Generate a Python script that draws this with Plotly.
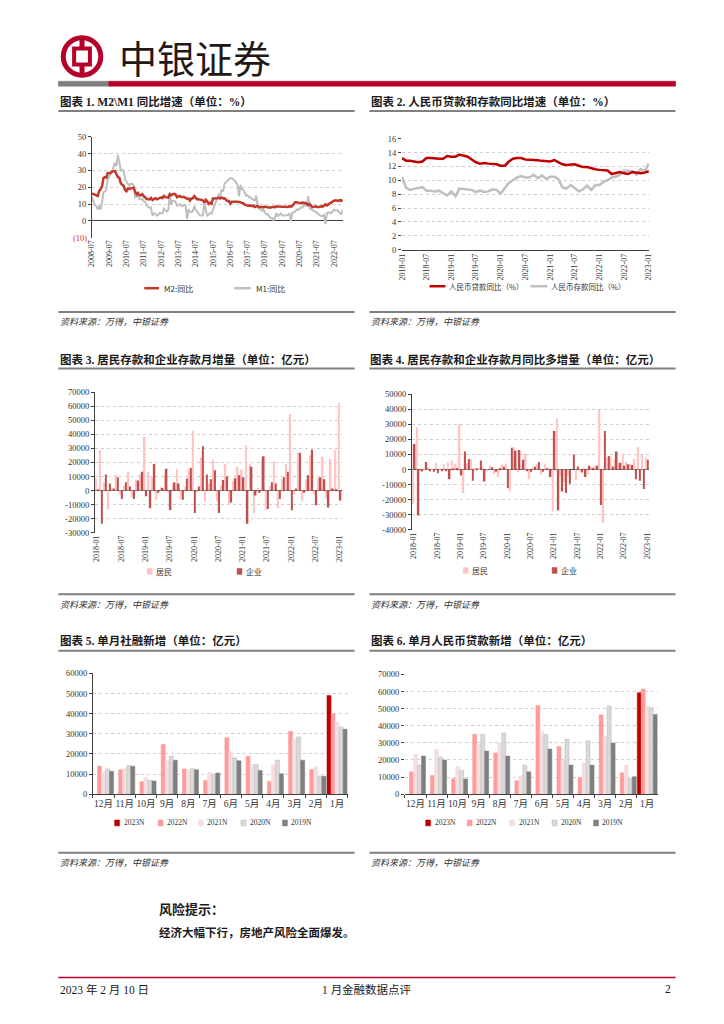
import plotly.graph_objects as go
import pandas as pd

W, H = 724, 1024
def X(px): return px / W
def Y(py): return 1 - py / H

SERIF = "Liberation Serif, Noto Sans CJK SC"
CJK = "Noto Sans CJK SC"
TXT = "#333333"
AX = "#404040"
GRID = "#cfcfcf"

# ---------------- Chart 1: M2 / M1 YoY (2008-07 .. 2023-01) ----------------
c1_dates = pd.date_range("2008-07-01", "2023-01-01", freq="MS")
m2_yoy = [16.4, 16.0, 15.3, 15.0, 14.8, 17.8,
          18.8, 20.5, 25.5, 26.0, 25.7, 28.5, 28.4, 28.5, 29.3, 29.4, 29.7, 27.7,
          26.0, 25.5, 22.5, 21.5, 21.0, 18.5, 17.6, 19.2, 19.0, 19.3, 19.5, 19.7,
          17.2, 15.7, 16.6, 15.3, 15.1, 15.9, 14.7, 13.5, 13.0, 12.9, 12.7, 13.6,
          12.4, 13.0, 13.4, 12.8, 13.2, 13.6, 13.9, 13.5, 14.8, 14.1, 13.9, 13.8,
          15.9, 15.2, 15.7, 16.1, 15.8, 14.0, 14.5, 14.7, 14.2, 14.3, 14.2, 13.6,
          13.2, 13.3, 12.1, 13.2, 13.4, 14.7, 13.5, 12.8, 12.9, 12.6, 12.3, 12.2,
          10.8, 12.5, 11.6, 10.1, 10.8, 10.2, 13.3, 13.3, 13.1, 13.5, 13.7, 13.3,
          14.0, 13.3, 13.4, 12.8, 11.8, 11.8, 10.2, 11.4, 11.5, 11.6, 11.4, 11.3,
          11.3, 11.1, 10.6, 10.5, 9.6, 9.4, 9.2, 8.9, 9.2, 8.8, 9.1, 8.2,
          8.6, 8.8, 8.2, 8.3, 8.3, 8.0, 8.5, 8.2, 8.3, 8.0, 8.0, 8.1,
          8.4, 8.0, 8.6, 8.5, 8.5, 8.5, 8.1, 8.2, 8.4, 8.4, 8.2, 8.7,
          8.4, 8.8, 10.1, 11.1, 11.1, 11.1, 10.7, 10.4, 10.9, 10.5, 10.7, 10.1,
          9.4, 10.1, 9.4, 8.1, 8.3, 8.6, 8.3, 8.2, 8.3, 8.7, 8.5, 9.0,
          9.8, 9.2, 9.7, 10.5, 11.1, 11.4, 12.0, 12.2, 12.1, 11.8, 12.4, 11.8,
          12.6]
m1_yoy = [14.3, 11.4, 9.4, 8.9, 6.8, 9.1,
          6.7, 10.9, 17.0, 17.5, 18.7, 24.8, 26.4, 27.7, 29.5, 32.0, 34.6, 32.4,
          39.0, 35.0, 29.9, 30.4, 29.9, 24.6, 22.9, 21.9, 20.9, 22.1, 22.1, 21.2,
          14.0, 14.5, 15.0, 12.9, 12.7, 13.1, 11.6, 11.2, 8.9, 8.4, 7.8, 7.9,
          3.1, 4.3, 4.4, 3.1, 3.5, 4.7, 4.6, 4.5, 7.3, 6.1, 5.5, 6.5,
          15.3, 9.5, 11.9, 11.9, 11.3, 9.1, 9.7, 9.9, 8.9, 8.9, 9.4, 9.3,
          1.2, 6.9, 5.4, 5.3, 5.7, 8.9, 6.7, 5.7, 4.8, 3.2, 3.2, 3.2,
          10.6, 5.6, 2.9, 3.7, 4.7, 4.3, 6.6, 9.3, 11.4, 14.0, 15.7, 15.2,
          18.6, 17.4, 22.1, 22.9, 23.7, 24.6, 25.4, 25.3, 24.7, 23.9, 22.7, 21.4,
          14.5, 21.4, 18.8, 18.5, 17.0, 15.0, 15.3, 14.0, 14.0, 13.0, 12.7, 11.8,
          15.0, 8.5, 7.1, 7.2, 6.0, 6.6, 5.1, 3.9, 4.0, 2.7, 1.5, 1.5,
          0.4, 2.0, 4.6, 2.9, 3.4, 4.4, 3.1, 3.4, 3.4, 3.3, 3.5, 4.4,
          0.0, 4.8, 5.0, 5.5, 6.8, 6.5, 6.9, 8.0, 8.1, 9.1, 10.0, 8.6,
          14.7, 7.4, 7.1, 6.2, 6.1, 5.5, 4.9, 4.2, 3.7, 2.8, 3.0, 3.5,
          -1.9, 4.7, 4.7, 5.1, 4.6, 5.8, 6.7, 6.1, 6.4, 5.8, 4.6, 3.7,
          6.7]

# ---------------- Chart 2: loans / deposits YoY (2018-01 .. 2023-01) ----------------
c2_dates = pd.date_range("2018-01-01", "2023-01-01", freq="MS")
loan_yoy = [13.2, 12.8, 12.8, 12.7, 12.6, 12.7, 13.2, 13.2, 13.1, 13.1, 13.1, 13.5,
            13.4, 13.4, 13.7, 13.5, 13.4, 13.0, 12.6, 12.4, 12.5, 12.4, 12.4, 12.3,
            12.1, 12.1, 12.7, 13.1, 13.2, 13.2, 13.0, 13.0, 12.9, 12.9, 12.8, 12.8,
            12.7, 12.9, 12.6, 12.3, 12.2, 12.3, 12.3, 12.1, 11.9, 11.9, 11.7, 11.6,
            11.5, 11.4, 11.4, 10.9, 11.0, 11.2, 11.0, 10.9, 11.2, 11.1, 11.0, 11.1,
            11.3]
deposit_yoy = [10.5, 8.9, 8.6, 8.8, 8.9, 9.0, 8.5, 8.5, 8.4, 8.5, 8.2, 7.8,
               8.4, 7.7, 8.8, 8.7, 8.6, 8.6, 8.3, 8.5, 8.3, 8.4, 8.7, 8.6,
               8.1, 8.9, 9.6, 10.0, 10.4, 10.6, 10.4, 10.4, 10.8, 10.3, 10.7, 10.2,
               10.5, 10.5, 10.2, 9.0, 8.8, 9.3, 8.9, 8.4, 8.7, 9.2, 8.6, 9.3,
               9.3, 9.8, 10.0, 10.4, 10.5, 10.8, 11.4, 11.3, 11.3, 10.8, 11.6, 11.3,
               12.4]

# ---------------- Chart 3 / 4: household & corporate deposits ----------------
months = [f"{y}-{m:02d}" for y in range(2018, 2023) for m in range(1, 13)] + ["2023-01"]
household_chg = [8800, 28800, 6000, -13500, 2200, 11500, -3000, 3500, 13500, -4500, 7800, 11500,
                 38500, 13500, 9500, -6500, 2500, 11500, -1500, 3000, 15500, -6000, 2500, 15500,
                 42500, -1500, 23500, -8000, 5000, 22000, -7500, 3500, 19000, -9500, 6500, 17000,
                 15000, 32500, 19000, -16000, 2000, 22000, -14000, 3500, 20500, -12500, 8000, 19000,
                 54500, -3000, 27000, -7500, 8000, 25000, -2500, 9000, 24000, -5500, 22500, 29000,
                 62500]
corporate_chg = [1000, -23500, 11500, 5000, 1500, 9500, -6000, 6000, 3000, -6000, 7200, 13500,
                 -4000, -12500, 19000, -1500, 1800, 15500, -13800, 5800, 5000, -6500, 8700, 16000,
                 -16000, 3000, 31500, 11500, 8000, 14500, -16000, 7500, 10000, -8500, 8800, 11000,
                 9500, -23500, 17000, -3500, -1500, 24500, -13000, 6000, 5000, -6000, 9500, 13500,
                 -14000, 1500, 27000, -1500, 11000, 29000, -10500, 9500, 8000, -12000, 1500, 1000,
                 -7000]
household_yoy = [-23000, 28000, -1500, 1000, 1500, 500, 4500, 1000, 3500, 4800, 6000, 4000,
                 30000, -15500, 4000, 7000, 1000, 1000, 2000, -500, 2500, -3000, -5000, 3500,
                 4000, -14500, 15000, -2000, 2500, 10500, -6500, 1500, 3500, -3500, 4000, 1500,
                 -28000, 34000, -4500, -8500, -4000, 0, -7000, -1000, 1500, -3000, 1500, 2500,
                 39500, -35500, 8000, 8500, 6500, 4500, 10500, 5000, 3500, 7000, 15000, 10000,
                 8000]
corporate_yoy = [17000, -30500, -1000, 5000, -1000, -1500, -2500, -500, -500, -6500, 500, 1000,
                 -4000, 12000, 7000, -7500, 500, 6000, -8000, 0, 1500, -1500, 1000, 2000,
                 -12500, 14500, 12500, 13000, 6500, -1000, -1500, 2000, 5000, -1500, 500, -5000,
                 25500, -27000, -14500, -15500, -9500, 10000, 2000, -2000, -5000, 2500, 1000, 2500,
                 -23500, 25500, 9000, 2000, 12000, 4500, 2500, 3500, 3000, -6500, -7500, -13000,
                 6500]

# ---------------- Chart 5 / 6: monthly new (亿元) ----------------
months_cn = ["12月", "11月", "10月", "9月", "8月", "7月", "6月", "5月", "4月", "3月", "2月", "1月"]
years = ["2023N", "2022N", "2021N", "2020N", "2019N"]
c5_values = {
    "2023N": [None] * 11 + [49000],
    "2022N": [14000, 12100, 6200, 24700, 12500, 6800, 28100, 18900, 6500, 31300, 12300, 39800],
    "2021N": [11300, 12700, 8300, 16600, 12200, 10800, 21200, 15000, 14700, 27300, 13600, 35800],
    "2020N": [12600, 14300, 6900, 19000, 12800, 9900, 18100, 14800, 17000, 28500, 9100, 33400],
    "2019N": [11400, 13900, 6600, 16900, 12100, 10600, 16600, 11800, 10200, 16900, 8900, 32300],
}
c6_values = {
    "2023N": [None] * 11 + [59300],
    "2022N": [13100, 11000, 9100, 35100, 24100, 7900, 51800, 27900, 9600, 46400, 12500, 61500],
    "2021N": [23500, 26200, 16200, 28900, 29900, 11000, 36800, 19700, 18300, 33900, 17100, 51600],
    "2020N": [17100, 21600, 13900, 34900, 35800, 17000, 34900, 32200, 31200, 51600, 9100, 50500],
    "2019N": [22300, 20000, 8900, 25200, 22300, 13100, 26400, 17000, 17000, 29900, 10200, 46600],
}
year_colors = {"2023N": "#C00000", "2022N": "#FF9B9B", "2021N": "#F7DEDE",
               "2020N": "#D9D9D9", "2019N": "#7F7F7F"}

RED_LINE = "#C0392B"
GRAY_LINE = "#BFBFBF"
PINK = "#FFC4C4"
CORP = "#C0504D"

fig = go.Figure()

fig.add_trace(go.Scatter(x=c1_dates, y=m1_yoy, mode="lines", line=dict(color=GRAY_LINE, width=2), xaxis="x", yaxis="y"))
fig.add_trace(go.Scatter(x=c1_dates, y=m2_yoy, mode="lines", line=dict(color=RED_LINE, width=2.5), xaxis="x", yaxis="y"))
fig.add_trace(go.Scatter(x=c2_dates, y=deposit_yoy, mode="lines", line=dict(color=GRAY_LINE, width=2.5), xaxis="x2", yaxis="y2"))
fig.add_trace(go.Scatter(x=c2_dates, y=loan_yoy, mode="lines", line=dict(color="#C00000", width=2.5), xaxis="x2", yaxis="y2"))
fig.add_trace(go.Bar(x=months, y=household_chg, marker=dict(color=PINK, line=dict(width=0)), width=0.42, offset=-0.44, xaxis="x3", yaxis="y3"))
fig.add_trace(go.Bar(x=months, y=corporate_chg, marker=dict(color=CORP, line=dict(width=0)), width=0.42, offset=0.0, xaxis="x3", yaxis="y3"))
fig.add_trace(go.Bar(x=months, y=household_yoy, marker=dict(color=PINK, line=dict(width=0)), width=0.42, offset=-0.44, xaxis="x4", yaxis="y4"))
fig.add_trace(go.Bar(x=months, y=corporate_yoy, marker=dict(color=CORP, line=dict(width=0)), width=0.42, offset=0.0, xaxis="x4", yaxis="y4"))
for k, yr in enumerate(years):
    off = -0.475 + 0.19 * k
    lc = "#B8B8B8" if yr == "2020N" else year_colors[yr]
    fig.add_trace(go.Bar(x=months_cn, y=c5_values[yr], marker=dict(color=year_colors[yr], line=dict(color=lc, width=0.5)),
                         width=0.19, offset=off, xaxis="x5", yaxis="y5"))
    fig.add_trace(go.Bar(x=months_cn, y=c6_values[yr], marker=dict(color=year_colors[yr], line=dict(color=lc, width=0.5)),
                         width=0.19, offset=off, xaxis="x6", yaxis="y6"))

tickf = dict(family=SERIF, size=8.5, color=TXT)
def yax(dom_top, dom_bot, xa, rng, dtick, line=True):
    vals = list(range(rng[0], rng[1] + 1, dtick))
    return dict(domain=[Y(dom_bot), Y(dom_top)], anchor=xa, range=rng,
                tickvals=vals, ticktext=[str(v) for v in vals],
                showgrid=True, griddash="dot", gridcolor=GRID, gridwidth=1,
                zeroline=True, zerolinecolor=AX, zerolinewidth=1,
                showline=line, linecolor=AX, linewidth=1,
                ticks="outside", ticklen=3, tickcolor=AX, tickfont=tickf, fixedrange=True)

rot = dict(family=SERIF, size=8, color=TXT)
layout = dict(
    width=W, height=H, margin=dict(l=0, r=0, t=0, b=0, pad=0),
    paper_bgcolor="white", plot_bgcolor="white", showlegend=False, barmode="overlay",
    xaxis=dict(domain=[X(89), X(343)], anchor="y", type="date",
               range=["2008-07-01", "2023-01-01"], tick0="2008-07-01", dtick="M12",
               tickformat="%Y-%m", tickangle=-90, tickfont=rot,
               showgrid=False, showline=False, zeroline=False),
    yaxis=dict(yax(133, 235, "x", [-10, 50], 10), tickvals=[0, 10, 20, 30, 40, 50],
               ticktext=["0", "10", "20", "30", "40", "50"]),
    xaxis2=dict(domain=[X(403), X(653)], anchor="y2", type="date",
                range=["2018-01-01", "2023-01-01"], tick0="2018-01-01", dtick="M6",
                tickformat="%Y-%m", tickangle=-90, tickfont=rot,
                showgrid=False, showline=True, linecolor=AX, zeroline=False),
    yaxis2=yax(135, 247, "x2", [0, 16], 2, line=False),
    xaxis3=dict(domain=[X(92), X(342)], anchor="y3", type="category", range=[-0.5, 60.5],
                tickvals=months[::6], tickangle=-90, tickfont=rot,
                showgrid=False, showline=False, zeroline=False),
    yaxis3=yax(391, 533, "x3", [-30000, 70000], 10000),
    xaxis4=dict(domain=[X(413), X(653)], anchor="y4", type="category", range=[-0.5, 60.5],
                tickvals=months[::6], tickangle=-90, tickfont=rot,
                showgrid=False, showline=False, zeroline=False),
    yaxis4=yax(393, 530, "x4", [-40000, 50000], 10000),
    xaxis5=dict(domain=[X(90), X(348)], anchor="y5", type="category", range=[-0.5, 11.5],
                tickangle=0, tickfont=dict(family=SERIF, size=9.5, color=TXT), showgrid=False,
                showline=True, linecolor=AX, ticks="outside", tickson="boundaries", ticklen=3, tickcolor=AX),
    yaxis5=yax(675, 797, "x5", [0, 60000], 10000),
    xaxis6=dict(domain=[X(406), X(662)], anchor="y6", type="category", range=[-0.5, 11.5],
                tickangle=0, tickfont=dict(family=SERIF, size=9.5, color=TXT), showgrid=False,
                showline=True, linecolor=AX, ticks="outside", tickson="boundaries", ticklen=3, tickcolor=AX),
    yaxis6=yax(676, 797, "x6", [0, 70000], 10000, line=False),
)
fig.update_layout(**layout)

shapes = []
ann = []
def hline(x0, x1, y, color, width):
    shapes.append(dict(type="line", xref="paper", yref="paper", x0=X(x0), x1=X(x1), y0=Y(y), y1=Y(y),
                       line=dict(color=color, width=width)))
def rect(x0, x1, y0, y1, color, lc=None, lw=0.5):
    shapes.append(dict(type="rect", xref="paper", yref="paper", x0=X(x0), x1=X(x1), y0=Y(y1), y1=Y(y0),
                       fillcolor=color, line=dict(color=lc or color, width=lw)))
def text(x, y, s, size, family=CJK, color=TXT, xanchor="left", bold=False, italic=False):
    ann.append(dict(xref="paper", yref="paper", x=X(x), y=Y(y), text=s, showarrow=False,
                    xanchor=xanchor, yanchor="middle",
                    font=dict(family=family, size=size, color=color,
                              weight="bold" if bold else "normal",
                              style="italic" if italic else "normal")))

BOC = "#B5002A"
shapes.append(dict(type="circle", xref="paper", yref="paper", x0=X(60), x1=X(98), y0=Y(71), y1=Y(33),
                   line=dict(color=BOC, width=5)))
rect(71, 87, 44, 60, "rgba(0,0,0,0)", BOC, 4)
shapes.append(dict(type="line", xref="paper", yref="paper", x0=X(79), x1=X(79), y0=Y(33), y1=Y(44), line=dict(color=BOC, width=5)))
shapes.append(dict(type="line", xref="paper", yref="paper", x0=X(79), x1=X(79), y0=Y(60), y1=Y(71), line=dict(color=BOC, width=5)))
text(114, 52, "中银证券", 38, family=CJK, color="#231815")
rect(55, 106, 77, 82, "#7F7F7F")
rect(106, 680, 77, 82, BOC)

titles = [(55, 97, "图表 1. M2\\M1 同比增速（单位：%）"),
          (370, 97, "图表 2. 人民币贷款和存款同比增速（单位：%）"),
          (55, 358, "图表 3. 居民存款和企业存款月增量（单位：亿元）"),
          (369, 358, "图表 4. 居民存款和企业存款月同比多增量（单位：亿元）"),
          (55, 642, "图表 5. 单月社融新增（单位：亿元）"),
          (370, 642, "图表 6. 单月人民币贷款新增（单位：亿元）")]
for x, y, s in titles:
    text(x, y, s, 11.5, family=SERIF, color="#1a1a1a", bold=True)
for y in (107, 367, 652, 310, 595, 856):
    hline(55, 355, y, "#808080", 2)
    hline(370, 680, y, "#808080", 2)
for y in (320, 605, 866):
    text(55, y, "资料来源：万得，中银证券", 9, color="#333333", italic=True)
    text(370, y, "资料来源：万得，中银证券", 9, color="#333333", italic=True)

text(86, 235, "(10)", 8.5, family=SERIF, color="#E03030", xanchor="right")
hline(142, 157, 286, RED_LINE, 2.5); text(160, 286, "M2:同比", 8)
hline(233, 250, 286, GRAY_LINE, 2.5); text(253, 286, "M1:同比", 8)
hline(431, 447, 284, "#C00000", 2.5); text(449, 284, "人民币贷款同比（%）", 7.5)
hline(533, 550, 284, GRAY_LINE, 2.5); text(552, 284, "人民币存款同比（%）", 7.5)
rect(145, 150, 569, 575, PINK); text(152, 572, "居民", 8)
rect(236, 241, 569, 575, CORP); text(243, 572, "企业", 8)
rect(465, 470, 568, 574, PINK); text(472, 571, "居民", 8)
rect(555, 560, 568, 574, CORP); text(562, 571, "企业", 8)
for xs in ((112, 156, 197, 240, 282), (427, 469, 512, 555, 597)):
    for xx, yr in zip(xs, years):
        lc = "#B8B8B8" if yr == "2020N" else None
        rect(xx, xx + 5, 823, 829, year_colors[yr], lc)
        text(xx + 7, 826, yr, 7.5, family=SERIF)

text(155, 912, "风险提示：", 13, color="#1a1a1a", bold=True)
text(155, 936, "经济大幅下行，房地产风险全面爆发。", 11.5, color="#1a1a1a", bold=True)
hline(55, 680, 982, "#C00020", 1.5)
text(55, 994, "2023 年 2 月 10 日", 11.5, family=SERIF, color="#1a1a1a")
text(368, 994, "1 月金融数据点评", 11.5, family=SERIF, color="#1a1a1a", xanchor="center")
text(677, 994, "2", 11.5, family=SERIF, color="#1a1a1a", xanchor="right")

fig.update_layout(shapes=shapes, annotations=ann)
fig.write_html("out.html", config={"displayModeBar": False},
               post_script="document.body.style.margin='0';")
